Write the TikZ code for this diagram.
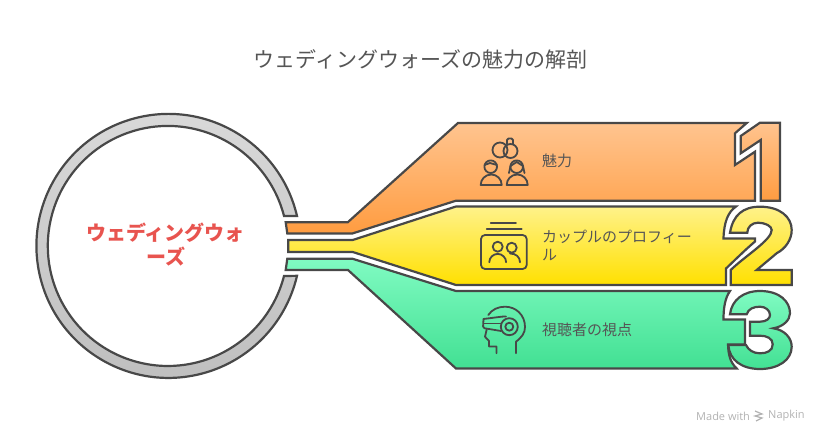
\documentclass[tikz,border=0pt]{standalone}
\usepackage{fontspec}
\setmainfont{Noto Sans CJK JP}
\newfontfamily\markfont{Open Sans}
\usepackage{tikz}
\definecolor{linegray}{HTML}{484848}
\definecolor{textgray}{HTML}{555555}
\definecolor{ringtop}{HTML}{DADADA}
\definecolor{ringlow}{HTML}{BEBEBE}
\definecolor{redtext}{HTML}{E8544F}
\definecolor{orangetop}{HTML}{FFC48F}
\definecolor{orangelow}{HTML}{FF9C40}
\definecolor{yellowtop}{HTML}{FFF28A}
\definecolor{yellowlow}{HTML}{FFE000}
\definecolor{greentop}{HTML}{80FBC2}
\definecolor{greenlow}{HTML}{42E093}
\tikzset{
  band/.style={draw=linegray,line width=2.2pt,line join=miter},
  icon/.style={draw=linegray,line width=1.8pt,line cap=round,line join=round},
  label/.style={text=textgray,font=\fontsize{15}{18}\selectfont,align=left,anchor=west,inner sep=0pt}
}
\begin{document}
\begin{tikzpicture}[x=1pt,y=-1pt]
            \useasboundingbox (0,0) rectangle (828,444);
            \node[text=textgray,font=\fontsize{21}{24}\selectfont,inner sep=0pt] (title) at (420.5,59) {ウェディングウォーズの魅力の解剖};

            % ring
            \path[band,top color=ringtop,bottom color=ringlow] (297,216) arc[start angle=13.1,end angle=346.9,radius=132pt]
                -- (284,276) arc[start angle=345.5,end angle=14.5,radius=120pt] -- cycle;
            \node[text=redtext,font=\fontsize{20}{24}\selectfont\bfseries,align=center,inner sep=0pt] (center) at (165.5,245) {ウェディングウォ\\ーズ};

            % bands
            \path[band,top color=orangetop,bottom color=orangelow]
                (285.7,222.3) -- (347.7,222.3) -- (458,123) -- (746.7,123) -- (735,133.3) -- (735,165)
                -- (755,151.7) -- (755,200.7) -- (456,200.7) -- (352.3,233.5) -- (287.3,233.5) -- cycle;
            \path[band,top color=yellowtop,bottom color=yellowlow]
                (288.3,240) -- (352.7,240) -- (456,206.5) -- (736,206.5)
                .. controls (728,212) and (724,222) .. (723.5,238.5) -- (755,238.5) -- (755,241.5)
                .. controls (745,250) and (735,260) .. (726,268.5) -- (726,285) -- (456,285) -- (352.7,252) -- (288.3,252) -- cycle;
            \path[band,top color=greentop,bottom color=greenlow]
                (287.3,258.7) -- (352.3,258.7) -- (456,291) -- (730,291)
                .. controls (725,298) and (723.5,308) .. (723.5,319.5) -- (745,319.5) -- (745,344.5) -- (728,344.5)
                .. controls (728.5,355) and (730,362) .. (736.7,368.5) -- (456,368.5) -- (348,270) -- (285.7,270) -- cycle;

            % digits
            \path[band,top color=orangetop,bottom color=orangelow]
                (760,122.7) -- (780,122.7) -- (780,200.7) -- (760.7,200.7) -- (760.7,140) -- (740.7,153.3) -- (740.7,136) -- cycle;
            \path[band,top color=yellowtop,bottom color=yellowlow]
                (730,232.7) .. controls (733,215) and (743,206.7) .. (760,206.7)
                .. controls (780,206.7) and (791.7,217) .. (791.7,230)
                .. controls (791.7,240) and (785,249) .. (777,253)
                -- (756.7,270) -- (791.7,270) -- (791.7,285) -- (730.7,285) -- (730.7,270)
                .. controls (745,256) and (771.7,240) .. (771.7,230)
                .. controls (771.7,226) and (765,222.7) .. (758,222.7)
                .. controls (752,222.7) and (747.3,227) .. (747.3,232.7) -- cycle;
            \path[band,top color=greentop,bottom color=greenlow]
                (730,314.3) .. controls (731.7,300) and (743.3,291) .. (760,291)
                .. controls (780,291) and (790,301.7) .. (790,313.3)
                .. controls (790,320) and (783.3,326.7) .. (773.3,328.3)
                .. controls (785,330) and (791.7,338.3) .. (791.7,346.7)
                .. controls (791.7,360) and (778.3,369) .. (760,369)
                .. controls (741.7,369) and (729.3,360) .. (728.3,345)
                -- (746,345) .. controls (748.3,350) and (753.3,353.3) .. (760,353.3)
                .. controls (766.7,353.3) and (772.7,351) .. (772.7,344.3)
                .. controls (772.7,338.3) and (766.7,335.7) .. (760,335.7)
                -- (750,335.7) -- (750,321.7) -- (760,321.7)
                .. controls (766.7,321.7) and (770,318.3) .. (770,315)
                .. controls (770,310) and (765,306.7) .. (760,306.7)
                .. controls (753.3,306.7) and (748.3,309) .. (746.7,314.3) -- cycle;

            % labels
            \node[label] (charm) at (542,160.5) {魅力};
            \node[label] (couple) at (542,245) {カップルのプロフィー\\ル};
            \node[label] (viewer) at (542,329.5) {視聴者の視点};

            % icon rings and guests
            \draw[icon] (500,150) circle (7.5);
            \draw[icon] (510.5,151) circle (7);
            \draw[icon] (507,144) -- (507,140) -- (508.5,138.5) -- (511.5,138.5) -- (513,140) -- (513,144);
            \draw[icon] (490.7,166.7) circle (6.3);
            \draw[icon] (516.7,166.7) circle (6.3);
            \draw[icon] (484.5,165) -- (490,163) -- (497,165);
            \draw[icon] (510.5,166) -- (516.7,162) -- (523,166);
            \draw[icon] (510.5,166) -- (509,173);
            \draw[icon] (523,166) -- (524.5,173);
            \draw[icon] (480.7,185) arc[start angle=180,end angle=0,radius=10.5pt] -- cycle;
            \draw[icon] (506.7,185) arc[start angle=180,end angle=0,radius=10.5pt] -- cycle;

            % icon frame
            \draw[icon,rounded corners=4pt] (481,235) rectangle (526.7,269);
            \draw[icon] (490.7,223.3) -- (516,223.3);
            \draw[icon] (486.7,229.3) -- (521.7,229.3);
            \draw[icon] (497.7,246.7) circle (5);
            \draw[icon] (511.7,247.7) circle (5);
            \draw[icon] (489.3,262.3) arc[start angle=180,end angle=0,radius=8.4pt];
            \draw[icon] (510,253.5) .. controls (516,253.5) and (520,257) .. (520,262.3);

            % icon headset
            \draw[icon] (516,353.3) -- (516,341.7) .. controls (522,337) and (525,333) .. (525,327)
                .. controls (525,315) and (516,306.7) .. (505,306.7) .. controls (498,306.7) and (492,309.5) .. (488.3,315);
            \draw[icon] (486.7,329.5) -- (485,336.7) -- (489,341) -- (489,346.5) -- (496.5,346.5) -- (496.5,353.3);
            \draw[icon,rounded corners=1.5pt] (483.5,319) -- (503,316.5) -- (506,316.5);
            \draw[icon,rounded corners=1.5pt] (483.5,319) -- (483,328) -- (501,331);
            \draw[icon] (484,323.5) -- (501,323.5);
            \draw[icon] (509.3,326.7) circle (8.5);
            \draw[icon] (509.3,326.7) circle (4);

            % mark
            \node[text=black!30,font=\markfont\fontsize{11}{13}\selectfont,inner sep=0pt,anchor=west] (made) at (696,416) {Made with};
            \node[text=black!30,font=\markfont\fontsize{11}{13}\selectfont,inner sep=0pt,anchor=west] (napkin) at (768,416) {Napkin};
            \draw[black!30,line width=1.2pt] (755,411) -- (762,414) -- (755,416) -- (762,418) -- (756,421);
        \end{tikzpicture}
\end{document}
